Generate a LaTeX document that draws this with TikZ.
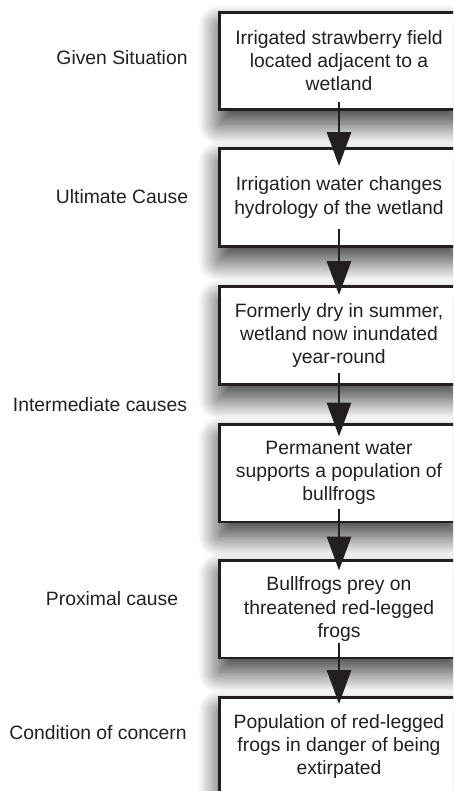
\documentclass[tikz,border=0pt]{standalone}
\usepackage{fontspec}
\setmainfont{Liberation Sans}
\usepackage{tikz}
\usetikzlibrary{arrows.meta,shadows.blur}
\usepackage{xcolor}
\definecolor{ink}{HTML}{231F20}

\begin{document}
\begin{tikzpicture}[
    x=0.02cm, y=-0.02cm,
    every node/.style={font=\fontsize{11}{13.1}\selectfont, text=ink},
    stepBox/.style={draw=ink, line width=1.7pt, fill=white, inner sep=0pt,
        minimum width=4.8cm, minimum height=1.96cm, align=center,
        blur shadow={shadow xshift=0pt, shadow yshift=-8pt,
            shadow blur radius=12pt, shadow blur steps=25, shadow opacity=80}},
    sideLabel/.style={align=center},
    flowArrow/.style={draw=ink, line width=1.7pt, -{Triangle[length=0.68cm, width=0.48cm]}}
]
    \useasboundingbox (0,0) rectangle (453,791);
    \clip (0,0) rectangle (453,791);

    % Catena causale
    \node[stepBox] (b1) at (339,61) {Irrigated strawberry field\\located adjacent to a\\wetland};
    \node[stepBox] (b2) at (339,197.5) {Irrigation water changes\\hydrology of the wetland};
    \node[stepBox] (b3) at (339,335.5) {Formerly dry in summer,\\wetland now inundated\\year-round};
    \node[stepBox] (b4) at (339,473) {Permanent water\\supports a population of\\bullfrogs};
    \node[stepBox] (b5) at (339,609) {Bullfrogs prey on\\threatened red-legged\\frogs};
    \node[stepBox] (b6) at (339,746.5) {Population of red-legged\\frogs in danger of being\\extirpated};

    % Frecce
    \draw[flowArrow] ([yshift=0.18cm]b1.south) -- ([yshift=-0.38cm]b2.north);
    \draw[flowArrow] ([yshift=0.38cm]b2.south) -- ([yshift=-0.2cm]b3.north);
    \draw[flowArrow] ([yshift=0.26cm]b3.south) -- ([yshift=-0.28cm]b4.north);
    \draw[flowArrow] ([yshift=0.28cm]b4.south) -- ([yshift=-0.24cm]b5.north);
    \draw[flowArrow] ([yshift=0.32cm]b5.south) -- ([yshift=-0.16cm]b6.north);

    % Etichette a sinistra
    \node[sideLabel] (l1) at (122,58) {Given Situation};
    \node[sideLabel] (l2) at (122,197) {Ultimate Cause};
    \node[sideLabel] (l3) at (100,405) {Intermediate causes};
    \node[sideLabel] (l4) at (112,599) {Proximal cause};
    \node[sideLabel] (l5) at (98,733) {Condition of concern};
\end{tikzpicture}
\end{document}
